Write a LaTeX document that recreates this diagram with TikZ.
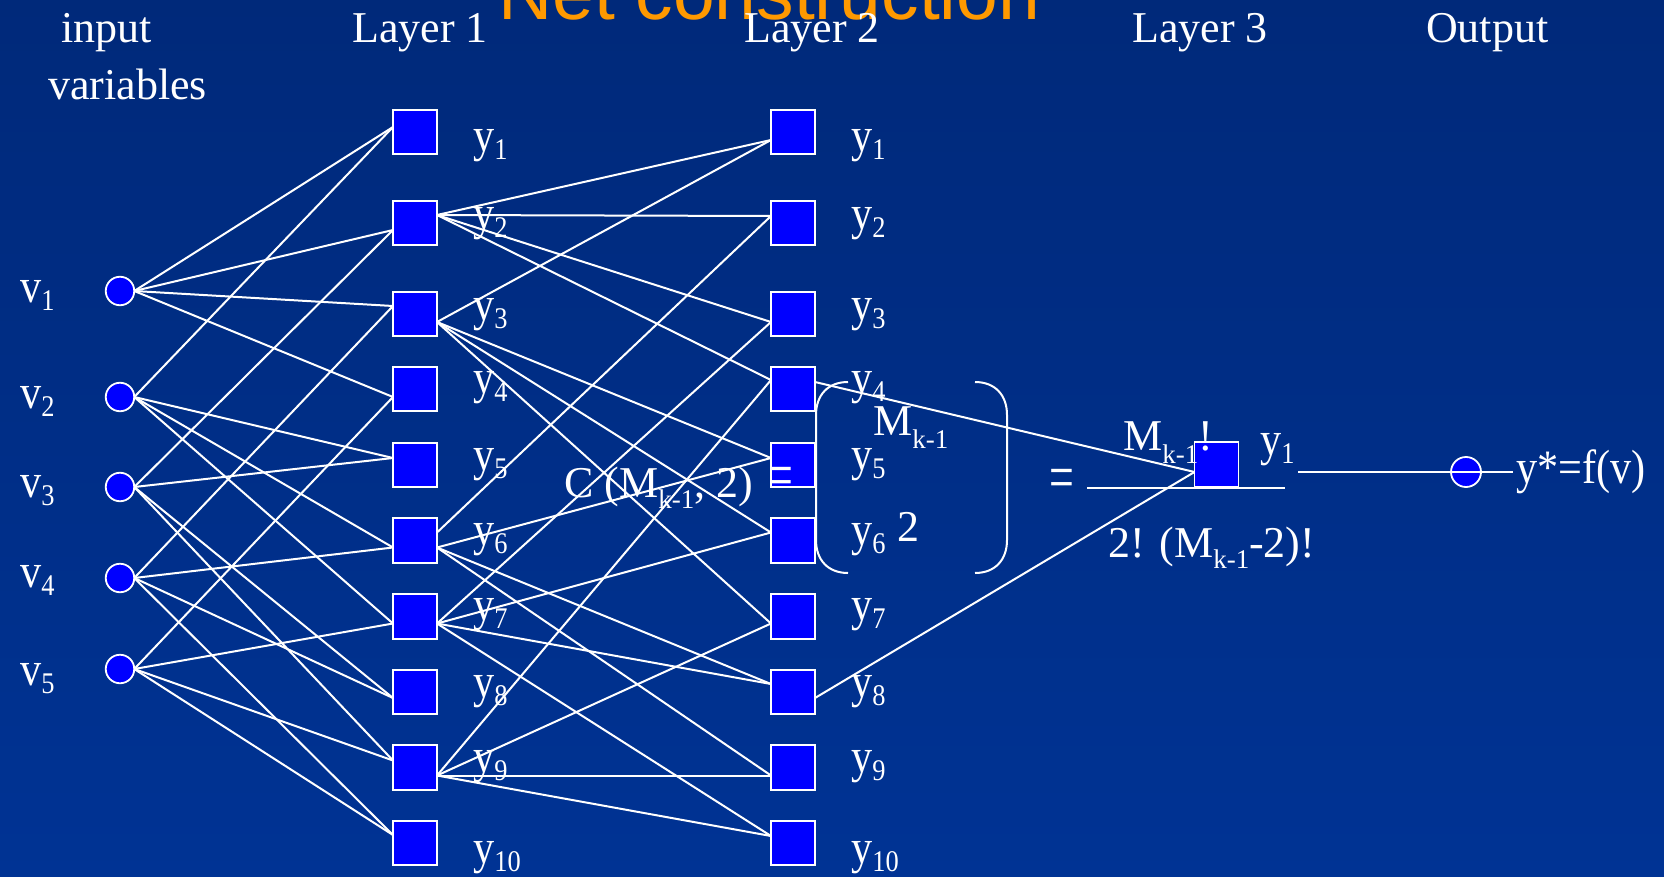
\documentclass[tikz,border=0pt]{standalone}
\usepackage{fontspec}
\setmainfont{Liberation Serif}
\newfontfamily\titlefont{Liberation Sans}
\usetikzlibrary{calc}
\definecolor{bgtop}{RGB}{0,41,122}
\definecolor{bgbot}{RGB}{0,51,148}
\definecolor{nodeblue}{RGB}{0,0,255}
\definecolor{titleorange}{RGB}{255,153,0}
\newcommand{\labsub}[2]{\scalebox{0.88}[1]{#1\raisebox{-8pt}{\fontsize{30}{30}\selectfont #2}}}
\newcommand{\eqsub}[2]{\raisebox{-#1pt}{\fontsize{27}{27}\selectfont #2}}
\newcommand{\tallequal}{\scalebox{1}[1.5]{=}}
\newcommand{\ilink}[3]{\draw[link] (#1.east) -- ($(#2.west)+(0,#3)$);}
\newcommand{\mlink}[4]{\draw[link] ($(#1.east)+(0,#2)$) -- ($(#3.west)+(0,#4)$);}
\begin{document}
\begin{tikzpicture}[x=1pt,y=-1pt,
  sq/.style={draw=white, line width=1.8pt, fill=nodeblue, minimum width=44pt, minimum height=44.5pt, inner sep=0pt, outer sep=0pt},
  inpt/.style={circle, draw=white, line width=1.8pt, fill=nodeblue, minimum size=28.5pt, inner sep=0pt, outer sep=0pt},
  link/.style={draw=white, line width=2pt},
  head/.style={text=white, inner sep=0pt, anchor=base west, font=\fontsize{44}{44}\selectfont},
  lab/.style={text=white, inner sep=0pt, anchor=base west, font=\fontsize{48}{48}\selectfont},
  eqn/.style={text=white, inner sep=0pt, anchor=base west, font=\fontsize{44}{44}\selectfont},
  paren/.style={draw=white, line width=2pt},
]
\useasboundingbox (0,0) rectangle (1664,877);
\clip (0,0) rectangle (1664,877);
\fill[top color=bgtop, bottom color=bgbot] (0,0) rectangle (1664,877);

% title
\node[anchor=base west, inner sep=0pt, text=titleorange, font=\titlefont\fontsize{75}{75}\selectfont] (title) at (498,20) {Net construction};

% headings
\node[head] (hin1) at (61,43) {input};
\node[head] (hin2) at (48,100) {variables};
\node[head] (hl1) at (352,43) {Layer 1};
\node[head] (hl2) at (744,43) {Layer 2};
\node[head] (hl3) at (1132,43) {Layer 3};
\node[head] (hout) at (1426,43) {Output};

% input nodes
\node[inpt] (v1) at (120,291) {};
\node[inpt] (v2) at (120,397) {};
\node[inpt] (v3) at (120,487) {};
\node[inpt] (v4) at (120,578) {};
\node[inpt] (v5) at (120,669) {};
\node[lab] (lv1) at (20,302) {\labsub{v}{1}};
\node[lab] (lv2) at (20,408) {\labsub{v}{2}};
\node[lab] (lv3) at (20,497) {\labsub{v}{3}};
\node[lab] (lv4) at (20,587) {\labsub{v}{4}};
\node[lab] (lv5) at (20,685) {\labsub{v}{5}};

% layer 1 and layer 2 squares
\foreach \i/\yy in {1/132,2/223,3/314,4/389,5/465,6/540.5,7/616.5,8/692,9/767.5,10/843}{
  \node[sq] (a\i) at (415,\yy) {};
  \node[sq] (b\i) at (793,\yy) {};
}
% layer 3 square and output circle
\node[sq] (c1) at (1216.5,464.5) {};
\node[inpt, minimum size=30pt] (out) at (1466,472) {};

% labels of layer 1 and layer 2
\foreach \i/\yy in {1/152,2/230,3/320,4/393,5/470,6/545,7/620,8/697,9/772,10/863}{
  \node[lab] (la\i) at (473,\yy) {\labsub{y}{\i}};
  \node[lab] (lb\i) at (851,\yy) {\labsub{y}{\i}};
}

% input -> layer 1
\ilink{v1}{a1}{-5} \ilink{v1}{a2}{7} \ilink{v1}{a3}{-8} \ilink{v1}{a4}{8}
\ilink{v2}{a1}{-5} \ilink{v2}{a5}{-7} \ilink{v2}{a6}{7} \ilink{v2}{a7}{7}
\ilink{v3}{a2}{7} \ilink{v3}{a5}{-7} \ilink{v3}{a8}{6} \ilink{v3}{a9}{-7}
\ilink{v4}{a3}{-8} \ilink{v4}{a6}{7} \ilink{v4}{a8}{6} \ilink{v4}{a10}{-8}
\ilink{v5}{a4}{8} \ilink{v5}{a7}{7} \ilink{v5}{a9}{-7} \ilink{v5}{a10}{-8}

% layer 1 -> layer 2
\mlink{a2}{-8}{b1}{8} \mlink{a2}{-8}{b2}{-7} \mlink{a2}{-8}{b3}{8} \mlink{a2}{-8}{b4}{-9}
\mlink{a3}{8}{b1}{8} \mlink{a3}{8}{b5}{-7} \mlink{a3}{8}{b6}{-8} \mlink{a3}{8}{b7}{7}
\mlink{a6}{-8}{b2}{-7} \mlink{a6}{7}{b5}{-7} \mlink{a6}{7}{b8}{-8} \mlink{a6}{7}{b9}{8}
\mlink{a7}{7}{b3}{8} \mlink{a7}{7}{b6}{-8} \mlink{a7}{7}{b8}{-8} \mlink{a7}{7}{b10}{-7}
\mlink{a9}{8}{b4}{-9} \mlink{a9}{8}{b7}{7} \mlink{a9}{8}{b9}{8} \mlink{a9}{8}{b10}{-7}

% layer 2 -> layer 3
\mlink{b4}{-7}{c1}{7.5}
\mlink{b8}{6}{c1}{7.5}

% layer 3 -> output
\node[lab] (lc1) at (1260,455) {\labsub{y}{1}};
\node[lab] (ystar) at (1516,483) {\scalebox{0.88}[1]{y*=f(v)}};
\coordinate (l3o) at (1298,472);
\coordinate (ye) at (1513,472);
\draw[link] (l3o) -- (out.center) -- (ye);

% binomial formula
\draw[paren] (848,382) .. controls (828,382) and (816,395) .. (816,415) -- (816,540) .. controls (816,560) and (828,573) .. (848,573);
\draw[paren] (975,382) .. controls (995,382) and (1007,395) .. (1007,415) -- (1007,540) .. controls (1007,560) and (995,573) .. (975,573);
\node[eqn] (cform) at (564,497) {C (M\eqsub{11}{k-1}, 2) \hspace{5pt}\tallequal};
\node[eqn] (mk) at (873,435) {M\eqsub{13}{k-1}};
\node[eqn] (two) at (897,541) {2};
\node[eqn] (eq2) at (1049,499) {\tallequal};
\draw[link] (1087,488) -- (1285,488);
\node[eqn] (num) at (1123,450) {M\eqsub{13}{k-1}!};
\node[eqn] (den) at (1108,557) {2! (M\eqsub{11}{k-1}-2)!};
\end{tikzpicture}
\end{document}
